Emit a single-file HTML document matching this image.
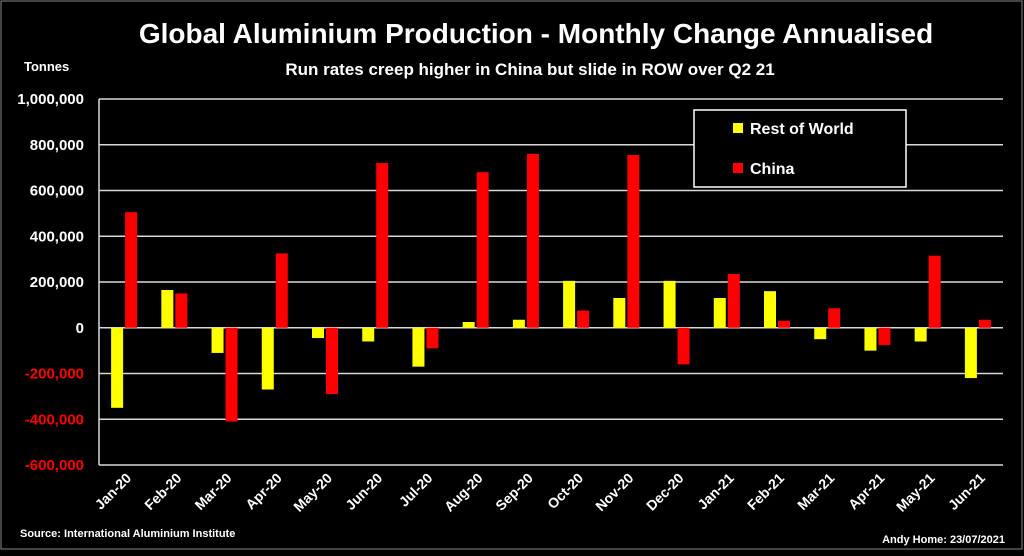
<!DOCTYPE html>
<html><head><meta charset="utf-8"><style>
body{margin:0;background:#000;width:1024px;height:551px;overflow:hidden;font-family:"Liberation Sans",sans-serif}
svg text{font-family:"Liberation Sans",sans-serif;font-weight:bold}
</style></head><body>
<svg id="c" width="1024" height="551">
<rect x="1" y="1" width="1021" height="548" fill="#000" stroke="#888" stroke-width="1"/>
<text x="536" y="43" fill="#fff" font-size="28" text-anchor="middle">Global Aluminium Production - Monthly Change Annualised</text>
<text x="530" y="75" fill="#fff" font-size="17" text-anchor="middle">Run rates creep higher in China but slide in ROW over Q2 21</text>
<text x="24" y="71" fill="#fff" font-size="13">Tonnes</text>
<text x="20" y="537" fill="#fff" font-size="11">Source: International Aluminium Institute</text>
<text x="1005" y="543" fill="#fff" font-size="11" text-anchor="end">Andy Home: 23/07/2021</text>
<g id="plot"></g>
<g>
<rect x="694" y="110" width="212" height="77" fill="#000" stroke="#fff" stroke-width="1.5"/>
<rect x="733" y="123" width="10" height="10" fill="#ffff00"/>
<text x="750" y="134" fill="#fff" font-size="16">Rest of World</text>
<rect x="733" y="163" width="10" height="10" fill="#ff0000"/>
<text x="750" y="174" fill="#fff" font-size="16">China</text>
</g>
</svg>
<script>
const categories=["Jan-20","Feb-20","Mar-20","Apr-20","May-20","Jun-20","Jul-20","Aug-20","Sep-20","Oct-20","Nov-20","Dec-20","Jan-21","Feb-21","Mar-21","Apr-21","May-21","Jun-21"];
const rowValues=[-350000,165000,-110000,-270000,-45000,-60000,-170000,25000,35000,205000,130000,205000,130000,160000,-50000,-100000,-60000,-220000];
const chinaValues=[505000,150000,-410000,325000,-290000,720000,-90000,680000,760000,75000,755000,-160000,235000,30000,85000,-75000,315000,35000];
const yTicks=[1000000,800000,600000,400000,200000,0,-200000,-400000,-600000];
const yTickLabels=["1,000,000","800,000","600,000","400,000","200,000","0","-200,000","-400,000","-600,000"];
const NS="http://www.w3.org/2000/svg";
const g=document.getElementById("plot");
const L=99,R=1003,T=99,B=465,ymax=1000000,ymin=-600000;
const y=v=>T+(ymax-v)/(ymax-ymin)*(B-T);
const bw=(R-L)/categories.length;
const x=i=>L+i*bw;
function mk(tag,attrs){const e=document.createElementNS(NS,tag);for(const k in attrs)e.setAttribute(k,attrs[k]);g.appendChild(e);return e;}
yTicks.forEach((t,i)=>{
 const l=mk("line",{x1:L,x2:R,y1:y(t),y2:y(t),stroke:"#d9d9d9","stroke-width":1.5});
 
 
 const tx=mk("text",{x:84,y:y(t)+5,fill:t<0?"#ff0000":"#fff","font-size":15,"text-anchor":"end"});
 tx.textContent=yTickLabels[i];
 
 
});
const ax=mk("line",{x1:L,x2:L,y1:T,y2:B,stroke:"#d9d9d9","stroke-width":1.5});


categories.forEach((c,i)=>{
 const cx=x(i)+bw/2;
 [[rowValues[i],"#ffff00",cx-13],[chinaValues[i],"#ff0000",cx+1]].forEach(([v,col,bx],j)=>{
  const r=mk("rect",{x:bx,width:12,y:Math.min(y(v),y(0)),height:Math.abs(y(v)-y(0)),fill:col});
  
  
 });
 const t=mk("text",{x:0,y:0,fill:"#fff","font-size":14,"text-anchor":"end",transform:`translate(${cx+8},${B+14}) rotate(-45)`});
 t.textContent=c;
 
 
});
</script>
</body></html>
